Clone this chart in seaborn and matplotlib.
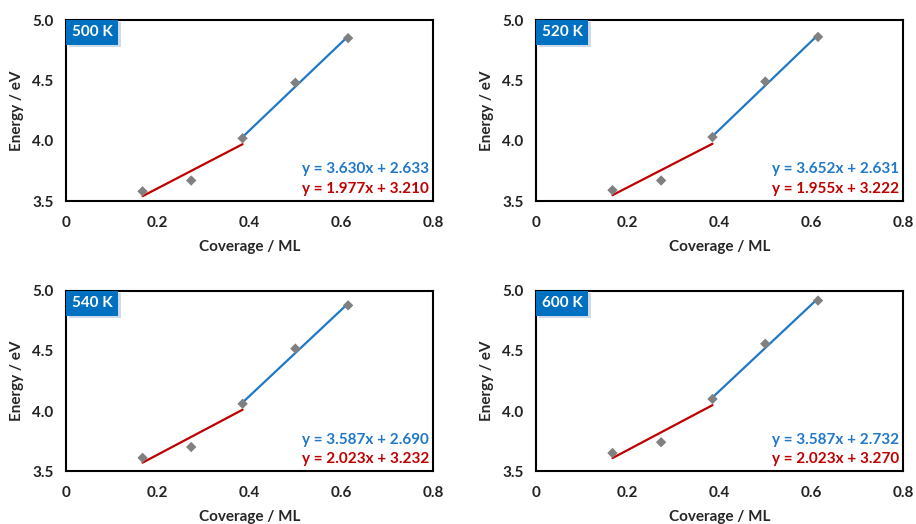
import numpy as np
import pandas as pd
import matplotlib
matplotlib.use("Agg")
import matplotlib.pyplot as plt
import matplotlib.patheffects as pe
import seaborn as sns

# ---- data ----
temps = ["500 K", "520 K", "540 K", "600 K"]
coverage = [0.167, 0.273, 0.385, 0.500, 0.615]
energy_500 = [3.58, 3.67, 4.02, 4.48, 4.85]
energy_520 = [3.59, 3.67, 4.03, 4.49, 4.86]
energy_540 = [3.61, 3.70, 4.06, 4.52, 4.88]
energy_600 = [3.65, 3.74, 4.10, 4.56, 4.92]
energies = [energy_500, energy_520, energy_540, energy_600]
# fit coefficients (slope, intercept)
high_slope = [3.630, 3.652, 3.587, 3.587]
high_icpt = [2.633, 2.631, 2.690, 2.732]
low_slope = [1.977, 1.955, 2.023, 2.023]
low_icpt = [3.210, 3.222, 3.232, 3.270]
low_range = [0.167, 0.385]
high_range = [0.385, 0.615]
xticks = [0, 0.2, 0.4, 0.6, 0.8]
xticklabels = ["0", "0.2", "0.4", "0.6", "0.8"]
yticks = [3.5, 4.0, 4.5, 5.0]
yticklabels = ["3.5", "4.0", "4.5", "5.0"]

sns.set_theme(style="white")
plt.rcParams["font.family"] = ["Lato", "DejaVu Sans"]
plt.rcParams["font.weight"] = "bold"

BLUE = "#1F78C8"
RED = "#C00000"
BOX = "#0070C0"

fig = plt.figure(figsize=(9.16, 5.24), dpi=100)
positions = [
    [0.072, 0.6164, 0.4007, 0.3454],
    [0.585, 0.6164, 0.4007, 0.3454],
    [0.072, 0.1011, 0.4007, 0.3436],
    [0.585, 0.1011, 0.4007, 0.3436],
]

for i, pos in enumerate(positions):
    ax = fig.add_axes(pos)
    df = pd.DataFrame({"x": coverage, "y": energies[i]})
    xl = np.array(low_range)
    xh = np.array(high_range)
    sns.lineplot(x=xl, y=low_slope[i] * xl + low_icpt[i], ax=ax, color=RED, lw=1.6)
    sns.lineplot(x=xh, y=high_slope[i] * xh + high_icpt[i], ax=ax, color=BLUE, lw=1.6)
    sns.scatterplot(data=df, x="x", y="y", ax=ax, marker="D", color="#808080",
                    s=28, edgecolor="none", zorder=5)
    ax.set_xlim(0, 0.8)
    ax.set_ylim(3.5, 5.0)
    ax.set_xticks(xticks)
    ax.set_xticklabels(xticklabels)
    ax.set_yticks(yticks)
    ax.set_yticklabels(yticklabels)
    ax.tick_params(axis="x", labelsize=11, length=3, width=1, colors="black",
                   direction="out", pad=8)
    ax.tick_params(axis="y", labelsize=11, length=3, width=1, colors="black",
                   direction="in", pad=9)
    for lab in ax.get_xticklabels() + ax.get_yticklabels():
        lab.set_fontweight("bold")
        lab.set_color("#222222")
    for sp in ax.spines.values():
        sp.set_color("black")
        sp.set_linewidth(1.5)
    ax.set_xlabel("Coverage / ML", fontsize=11, fontweight="bold", labelpad=7)
    ax.set_ylabel("Energy / eV", fontsize=11, fontweight="bold", labelpad=6)
    ax.text(0.99, 0.175, f"y = {high_slope[i]:.3f}x + {high_icpt[i]:.3f}",
            transform=ax.transAxes, ha="right", va="center", color=BLUE,
            fontsize=11, fontweight="bold")
    ax.text(0.99, 0.065, f"y = {low_slope[i]:.3f}x + {low_icpt[i]:.3f}",
            transform=ax.transAxes, ha="right", va="center", color=RED,
            fontsize=11, fontweight="bold")
    t = ax.text(0.016, 0.972, temps[i], transform=ax.transAxes, ha="left", va="top",
                color="white", fontsize=11, fontweight="bold", zorder=10,
                bbox=dict(boxstyle="square,pad=0.36", facecolor=BOX, edgecolor="none"))
    t.get_bbox_patch().set_path_effects([
        pe.SimplePatchShadow(offset=(2, -2), shadow_rgbFace="#b0c4de", alpha=0.6),
        pe.Normal()])

fig.savefig("out.png", dpi=100)
